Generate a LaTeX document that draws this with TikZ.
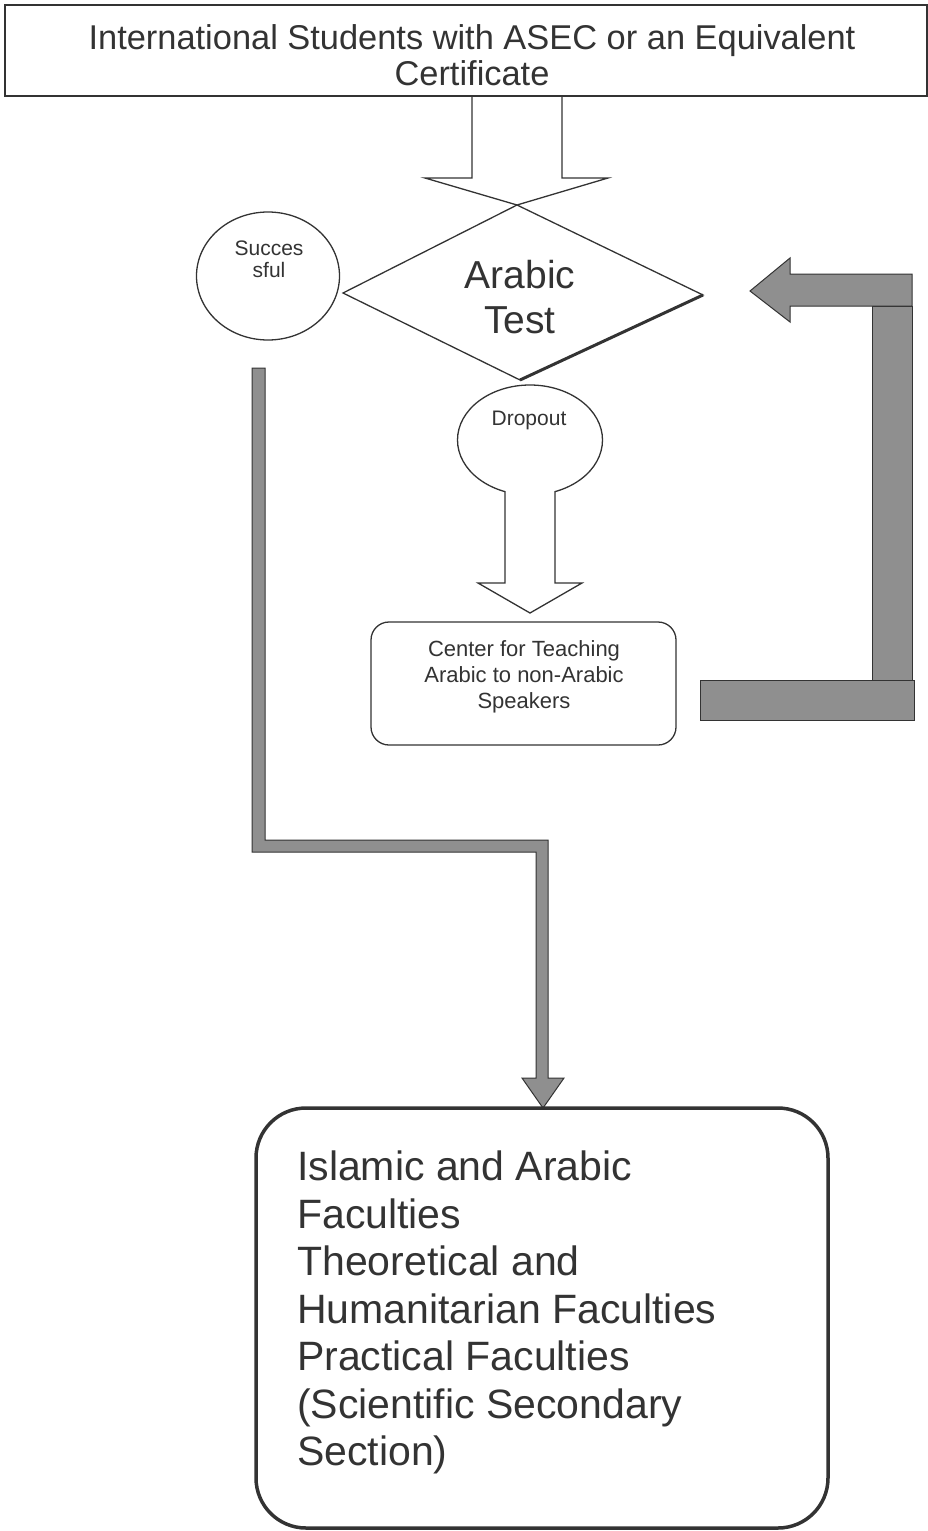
\documentclass[tikz,border=0pt]{standalone}
\usepackage{fontspec}
\setmainfont{Liberation Sans}
\usetikzlibrary{shapes.geometric,calc}
\definecolor{bargray}{gray}{0.56}
\definecolor{inkgray}{gray}{0.2}
\tikzset{
  box/.style={draw=inkgray, line width=1.3pt, inner sep=0pt},
  hollow/.style={draw=inkgray, line width=1.3pt, fill=white},
  grayarrow/.style={draw=inkgray, line width=1pt, fill=bargray},
  txt/.style={inner sep=0pt, align=center, text=inkgray},
}
\begin{document}
\begin{tikzpicture}[x=1pt,y=-1pt]
\useasboundingbox (0,0) rectangle (927,1531);

% top box
\node[box, minimum width=922pt, minimum height=91pt] (top) at (466,50.5) {};
\node[txt, font=\fontsize{34.4}{36}\selectfont] (toptxt) at (472,55) {International Students with ASEC or an Equivalent\\Certificate};

% diamond
\coordinate (dT) at (517,205);
\coordinate (dL) at (343,293);
\coordinate (dR) at (703,295);
\coordinate (dB) at (520,380);
\draw[line width=1.3pt, draw=inkgray] (dT) -- (dR) -- (dB) -- (dL) -- cycle;
\draw[line width=3pt, draw=inkgray] (dR) -- (dB);
\begin{scope}
\clip (400,250) rectangle (650,333.5);
\node[txt, font=\fontsize{39}{45}\selectfont] (test) at (520,297) {Arabic\\Test};
\end{scope}

% hollow arrow top -> diamond
\draw[hollow] (472,97) -- (472,178) -- (425,178) -- (dT) -- (608,178) -- (562,178) -- (562,97);

% successful ellipse
\node[draw=inkgray, ellipse, line width=1.3pt, minimum width=143pt, minimum height=128pt] (succ) at (268,276) {};
\node[txt, font=\fontsize{21}{22}\selectfont] (succtxt) at (269,259) {Succes\\sful};

% dropout ellipse
\node[draw=inkgray, ellipse, line width=1.3pt, minimum width=145pt, minimum height=110pt] (drop) at (530,440) {};
\node[txt, font=\fontsize{21}{22}\selectfont] (droptxt) at (529,420) {Dropout};

% hollow arrow dropout -> center
\coordinate (ctip) at (530,613);
\draw[hollow] (505,491) -- (505,583) -- (478,583) -- (ctip) -- (582,583) -- (555,583) -- (555,491);

% center box
\node[box, rounded corners=18pt, minimum width=305pt, minimum height=123pt] (center) at (523.5,683.5) {};
\node[txt, font=\fontsize{22}{26}\selectfont] (centertxt) at (524,677) {Center for Teaching\\Arabic to non-Arabic\\Speakers};

% right gray return arrow
\coordinate (rtip) at (750,291);
\draw[grayarrow] (700,680) rectangle (914,720);
\draw[grayarrow] (872,306) rectangle (912,680);
\draw[grayarrow] (912,274) -- (790,274) -- (790,258) -- (rtip) -- (790,322) -- (790,306) -- (912,306) -- cycle;

% left gray L arrow
\coordinate (ltip) at (543,1108);
\draw[grayarrow] (252,368) -- (265,368) -- (265,840) -- (548,840) -- (548,1078) -- (564,1078) -- (ltip) -- (522,1078) -- (536,1078) -- (536,852) -- (252,852) -- cycle;

% bottom box
\node[draw=inkgray, line width=3.5pt, rounded corners=50pt, minimum width=572pt, minimum height=420pt] (fac) at (542,1318) {};
\node[anchor=north west, inner sep=0pt, align=left, text=inkgray, font=\fontsize{41}{47.5}\selectfont] (factxt) at (297,1151) {Islamic and Arabic\\Faculties\\Theoretical and\\Humanitarian Faculties\\Practical Faculties\\(Scientific Secondary\\Section)};
\end{tikzpicture}
\end{document}
